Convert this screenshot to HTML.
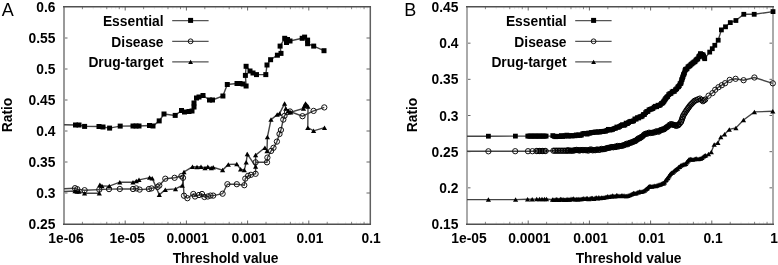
<!DOCTYPE html>
<html><head><meta charset="utf-8"><style>
html,body{margin:0;padding:0;background:#fff;}
body{width:778px;height:265px;overflow:hidden;}
svg{display:block;will-change:transform;}
text{font-family:"Liberation Sans", sans-serif;font-weight:bold;fill:#000;}
.yl{font-size:13.8px;text-anchor:end;}
.xl{font-size:13.8px;text-anchor:middle;}
.lg{font-size:13.8px;text-anchor:end;}
.al{font-size:13.8px;text-anchor:middle;}
.pl{font-size:18px;font-weight:normal;}
.ax{fill:none;stroke:#555;stroke-width:1.4;}
.tk{stroke:#666;stroke-width:1;}
.mt{stroke:#777;stroke-width:0.9;}
.mt2{stroke:#ddd;stroke-width:0.6;}
.ln{fill:none;stroke:#444;stroke-width:1.4;}
.lgl{stroke:#555;stroke-width:1.2;}
.sqm{fill:#000;}
.cim{fill:none;stroke:#111;stroke-width:1.0;}
.cid{fill:none;stroke:#000;stroke-width:1;}
.trm{fill:#000;}
</style></head><body>
<svg width="778" height="265" viewBox="0 0 778 265">
<line class="mt" x1="82.42" y1="224" x2="82.42" y2="221.8"/>
<line class="mt" x1="82.42" y1="7" x2="82.42" y2="9.2"/>
<line class="mt2" x1="93.20" y1="224" x2="93.20" y2="221.8"/>
<line class="mt2" x1="93.20" y1="7" x2="93.20" y2="9.2"/>
<line class="mt2" x1="100.85" y1="224" x2="100.85" y2="221.8"/>
<line class="mt2" x1="100.85" y1="7" x2="100.85" y2="9.2"/>
<line class="mt" x1="106.78" y1="224" x2="106.78" y2="221.8"/>
<line class="mt" x1="106.78" y1="7" x2="106.78" y2="9.2"/>
<line class="mt2" x1="111.62" y1="224" x2="111.62" y2="221.8"/>
<line class="mt2" x1="111.62" y1="7" x2="111.62" y2="9.2"/>
<line class="mt2" x1="115.72" y1="224" x2="115.72" y2="221.8"/>
<line class="mt2" x1="115.72" y1="7" x2="115.72" y2="9.2"/>
<line class="mt" x1="119.27" y1="224" x2="119.27" y2="221.8"/>
<line class="mt" x1="119.27" y1="7" x2="119.27" y2="9.2"/>
<line class="mt2" x1="122.40" y1="224" x2="122.40" y2="221.8"/>
<line class="mt2" x1="122.40" y1="7" x2="122.40" y2="9.2"/>
<line class="mt" x1="143.62" y1="224" x2="143.62" y2="221.8"/>
<line class="mt" x1="143.62" y1="7" x2="143.62" y2="9.2"/>
<line class="mt2" x1="154.40" y1="224" x2="154.40" y2="221.8"/>
<line class="mt2" x1="154.40" y1="7" x2="154.40" y2="9.2"/>
<line class="mt2" x1="162.05" y1="224" x2="162.05" y2="221.8"/>
<line class="mt2" x1="162.05" y1="7" x2="162.05" y2="9.2"/>
<line class="mt" x1="167.98" y1="224" x2="167.98" y2="221.8"/>
<line class="mt" x1="167.98" y1="7" x2="167.98" y2="9.2"/>
<line class="mt2" x1="172.82" y1="224" x2="172.82" y2="221.8"/>
<line class="mt2" x1="172.82" y1="7" x2="172.82" y2="9.2"/>
<line class="mt2" x1="176.92" y1="224" x2="176.92" y2="221.8"/>
<line class="mt2" x1="176.92" y1="7" x2="176.92" y2="9.2"/>
<line class="mt" x1="180.47" y1="224" x2="180.47" y2="221.8"/>
<line class="mt" x1="180.47" y1="7" x2="180.47" y2="9.2"/>
<line class="mt2" x1="183.60" y1="224" x2="183.60" y2="221.8"/>
<line class="mt2" x1="183.60" y1="7" x2="183.60" y2="9.2"/>
<line class="mt" x1="204.82" y1="224" x2="204.82" y2="221.8"/>
<line class="mt" x1="204.82" y1="7" x2="204.82" y2="9.2"/>
<line class="mt2" x1="215.60" y1="224" x2="215.60" y2="221.8"/>
<line class="mt2" x1="215.60" y1="7" x2="215.60" y2="9.2"/>
<line class="mt2" x1="223.25" y1="224" x2="223.25" y2="221.8"/>
<line class="mt2" x1="223.25" y1="7" x2="223.25" y2="9.2"/>
<line class="mt" x1="229.18" y1="224" x2="229.18" y2="221.8"/>
<line class="mt" x1="229.18" y1="7" x2="229.18" y2="9.2"/>
<line class="mt2" x1="234.02" y1="224" x2="234.02" y2="221.8"/>
<line class="mt2" x1="234.02" y1="7" x2="234.02" y2="9.2"/>
<line class="mt2" x1="238.12" y1="224" x2="238.12" y2="221.8"/>
<line class="mt2" x1="238.12" y1="7" x2="238.12" y2="9.2"/>
<line class="mt" x1="241.67" y1="224" x2="241.67" y2="221.8"/>
<line class="mt" x1="241.67" y1="7" x2="241.67" y2="9.2"/>
<line class="mt2" x1="244.80" y1="224" x2="244.80" y2="221.8"/>
<line class="mt2" x1="244.80" y1="7" x2="244.80" y2="9.2"/>
<line class="mt" x1="266.02" y1="224" x2="266.02" y2="221.8"/>
<line class="mt" x1="266.02" y1="7" x2="266.02" y2="9.2"/>
<line class="mt2" x1="276.80" y1="224" x2="276.80" y2="221.8"/>
<line class="mt2" x1="276.80" y1="7" x2="276.80" y2="9.2"/>
<line class="mt2" x1="284.45" y1="224" x2="284.45" y2="221.8"/>
<line class="mt2" x1="284.45" y1="7" x2="284.45" y2="9.2"/>
<line class="mt" x1="290.38" y1="224" x2="290.38" y2="221.8"/>
<line class="mt" x1="290.38" y1="7" x2="290.38" y2="9.2"/>
<line class="mt2" x1="295.22" y1="224" x2="295.22" y2="221.8"/>
<line class="mt2" x1="295.22" y1="7" x2="295.22" y2="9.2"/>
<line class="mt2" x1="299.32" y1="224" x2="299.32" y2="221.8"/>
<line class="mt2" x1="299.32" y1="7" x2="299.32" y2="9.2"/>
<line class="mt" x1="302.87" y1="224" x2="302.87" y2="221.8"/>
<line class="mt" x1="302.87" y1="7" x2="302.87" y2="9.2"/>
<line class="mt2" x1="306.00" y1="224" x2="306.00" y2="221.8"/>
<line class="mt2" x1="306.00" y1="7" x2="306.00" y2="9.2"/>
<line class="mt" x1="327.22" y1="224" x2="327.22" y2="221.8"/>
<line class="mt" x1="327.22" y1="7" x2="327.22" y2="9.2"/>
<line class="mt2" x1="338.00" y1="224" x2="338.00" y2="221.8"/>
<line class="mt2" x1="338.00" y1="7" x2="338.00" y2="9.2"/>
<line class="mt2" x1="345.65" y1="224" x2="345.65" y2="221.8"/>
<line class="mt2" x1="345.65" y1="7" x2="345.65" y2="9.2"/>
<line class="mt" x1="351.58" y1="224" x2="351.58" y2="221.8"/>
<line class="mt" x1="351.58" y1="7" x2="351.58" y2="9.2"/>
<line class="mt2" x1="356.42" y1="224" x2="356.42" y2="221.8"/>
<line class="mt2" x1="356.42" y1="7" x2="356.42" y2="9.2"/>
<line class="mt2" x1="360.52" y1="224" x2="360.52" y2="221.8"/>
<line class="mt2" x1="360.52" y1="7" x2="360.52" y2="9.2"/>
<line class="mt" x1="364.07" y1="224" x2="364.07" y2="221.8"/>
<line class="mt" x1="364.07" y1="7" x2="364.07" y2="9.2"/>
<line class="mt2" x1="367.20" y1="224" x2="367.20" y2="221.8"/>
<line class="mt2" x1="367.20" y1="7" x2="367.20" y2="9.2"/>
<line class="tk" x1="125.20" y1="224" x2="125.20" y2="220.5"/>
<line class="tk" x1="125.20" y1="7" x2="125.20" y2="10.5"/>
<line class="tk" x1="186.40" y1="224" x2="186.40" y2="220.5"/>
<line class="tk" x1="186.40" y1="7" x2="186.40" y2="10.5"/>
<line class="tk" x1="247.60" y1="224" x2="247.60" y2="220.5"/>
<line class="tk" x1="247.60" y1="7" x2="247.60" y2="10.5"/>
<line class="tk" x1="308.80" y1="224" x2="308.80" y2="220.5"/>
<line class="tk" x1="308.80" y1="7" x2="308.80" y2="10.5"/>
<text class="yl" x="55.4" y="12.00">0.6</text>
<line class="tk" x1="64" y1="38.00" x2="67.5" y2="38.00"/>
<line class="tk" x1="370" y1="38.00" x2="366.5" y2="38.00"/>
<text class="yl" x="55.4" y="43.00">0.55</text>
<line class="tk" x1="64" y1="69.00" x2="67.5" y2="69.00"/>
<line class="tk" x1="370" y1="69.00" x2="366.5" y2="69.00"/>
<text class="yl" x="55.4" y="74.00">0.5</text>
<line class="tk" x1="64" y1="100.00" x2="67.5" y2="100.00"/>
<line class="tk" x1="370" y1="100.00" x2="366.5" y2="100.00"/>
<text class="yl" x="55.4" y="105.00">0.45</text>
<line class="tk" x1="64" y1="131.00" x2="67.5" y2="131.00"/>
<line class="tk" x1="370" y1="131.00" x2="366.5" y2="131.00"/>
<text class="yl" x="55.4" y="136.00">0.4</text>
<line class="tk" x1="64" y1="162.00" x2="67.5" y2="162.00"/>
<line class="tk" x1="370" y1="162.00" x2="366.5" y2="162.00"/>
<text class="yl" x="55.4" y="167.00">0.35</text>
<line class="tk" x1="64" y1="193.00" x2="67.5" y2="193.00"/>
<line class="tk" x1="370" y1="193.00" x2="366.5" y2="193.00"/>
<text class="yl" x="55.4" y="198.00">0.3</text>
<text class="yl" x="55.4" y="229.00">0.25</text>
<text class="xl" x="66.0" y="242.8">1e-06</text>
<text class="xl" x="127.2" y="242.8">1e-05</text>
<text class="xl" x="187.6" y="242.8">0.0001</text>
<text class="xl" x="248.8" y="242.8">0.001</text>
<text class="xl" x="310.0" y="242.8">0.01</text>
<text class="xl" x="371.2" y="242.8">0.1</text>
<line x1="64" y1="6.2" x2="64" y2="224.8" stroke="#999" stroke-width="2"/>
<line x1="370.3" y1="6.2" x2="370.3" y2="224.8" stroke="#606060" stroke-width="1.5"/>
<line x1="63" y1="6.8" x2="371" y2="6.8" stroke="#505050" stroke-width="1.5"/>
<line x1="63" y1="224.3" x2="371" y2="224.3" stroke="#505050" stroke-width="1.5"/>
<line class="mt" x1="485.42" y1="224" x2="485.42" y2="221.8"/>
<line class="mt" x1="485.42" y1="7" x2="485.42" y2="9.2"/>
<line class="mt2" x1="496.20" y1="224" x2="496.20" y2="221.8"/>
<line class="mt2" x1="496.20" y1="7" x2="496.20" y2="9.2"/>
<line class="mt2" x1="503.85" y1="224" x2="503.85" y2="221.8"/>
<line class="mt2" x1="503.85" y1="7" x2="503.85" y2="9.2"/>
<line class="mt" x1="509.78" y1="224" x2="509.78" y2="221.8"/>
<line class="mt" x1="509.78" y1="7" x2="509.78" y2="9.2"/>
<line class="mt2" x1="514.62" y1="224" x2="514.62" y2="221.8"/>
<line class="mt2" x1="514.62" y1="7" x2="514.62" y2="9.2"/>
<line class="mt2" x1="518.72" y1="224" x2="518.72" y2="221.8"/>
<line class="mt2" x1="518.72" y1="7" x2="518.72" y2="9.2"/>
<line class="mt" x1="522.27" y1="224" x2="522.27" y2="221.8"/>
<line class="mt" x1="522.27" y1="7" x2="522.27" y2="9.2"/>
<line class="mt2" x1="525.40" y1="224" x2="525.40" y2="221.8"/>
<line class="mt2" x1="525.40" y1="7" x2="525.40" y2="9.2"/>
<line class="mt" x1="546.62" y1="224" x2="546.62" y2="221.8"/>
<line class="mt" x1="546.62" y1="7" x2="546.62" y2="9.2"/>
<line class="mt2" x1="557.40" y1="224" x2="557.40" y2="221.8"/>
<line class="mt2" x1="557.40" y1="7" x2="557.40" y2="9.2"/>
<line class="mt2" x1="565.05" y1="224" x2="565.05" y2="221.8"/>
<line class="mt2" x1="565.05" y1="7" x2="565.05" y2="9.2"/>
<line class="mt" x1="570.98" y1="224" x2="570.98" y2="221.8"/>
<line class="mt" x1="570.98" y1="7" x2="570.98" y2="9.2"/>
<line class="mt2" x1="575.82" y1="224" x2="575.82" y2="221.8"/>
<line class="mt2" x1="575.82" y1="7" x2="575.82" y2="9.2"/>
<line class="mt2" x1="579.92" y1="224" x2="579.92" y2="221.8"/>
<line class="mt2" x1="579.92" y1="7" x2="579.92" y2="9.2"/>
<line class="mt" x1="583.47" y1="224" x2="583.47" y2="221.8"/>
<line class="mt" x1="583.47" y1="7" x2="583.47" y2="9.2"/>
<line class="mt2" x1="586.60" y1="224" x2="586.60" y2="221.8"/>
<line class="mt2" x1="586.60" y1="7" x2="586.60" y2="9.2"/>
<line class="mt" x1="607.82" y1="224" x2="607.82" y2="221.8"/>
<line class="mt" x1="607.82" y1="7" x2="607.82" y2="9.2"/>
<line class="mt2" x1="618.60" y1="224" x2="618.60" y2="221.8"/>
<line class="mt2" x1="618.60" y1="7" x2="618.60" y2="9.2"/>
<line class="mt2" x1="626.25" y1="224" x2="626.25" y2="221.8"/>
<line class="mt2" x1="626.25" y1="7" x2="626.25" y2="9.2"/>
<line class="mt" x1="632.18" y1="224" x2="632.18" y2="221.8"/>
<line class="mt" x1="632.18" y1="7" x2="632.18" y2="9.2"/>
<line class="mt2" x1="637.02" y1="224" x2="637.02" y2="221.8"/>
<line class="mt2" x1="637.02" y1="7" x2="637.02" y2="9.2"/>
<line class="mt2" x1="641.12" y1="224" x2="641.12" y2="221.8"/>
<line class="mt2" x1="641.12" y1="7" x2="641.12" y2="9.2"/>
<line class="mt" x1="644.67" y1="224" x2="644.67" y2="221.8"/>
<line class="mt" x1="644.67" y1="7" x2="644.67" y2="9.2"/>
<line class="mt2" x1="647.80" y1="224" x2="647.80" y2="221.8"/>
<line class="mt2" x1="647.80" y1="7" x2="647.80" y2="9.2"/>
<line class="mt" x1="669.02" y1="224" x2="669.02" y2="221.8"/>
<line class="mt" x1="669.02" y1="7" x2="669.02" y2="9.2"/>
<line class="mt2" x1="679.80" y1="224" x2="679.80" y2="221.8"/>
<line class="mt2" x1="679.80" y1="7" x2="679.80" y2="9.2"/>
<line class="mt2" x1="687.45" y1="224" x2="687.45" y2="221.8"/>
<line class="mt2" x1="687.45" y1="7" x2="687.45" y2="9.2"/>
<line class="mt" x1="693.38" y1="224" x2="693.38" y2="221.8"/>
<line class="mt" x1="693.38" y1="7" x2="693.38" y2="9.2"/>
<line class="mt2" x1="698.22" y1="224" x2="698.22" y2="221.8"/>
<line class="mt2" x1="698.22" y1="7" x2="698.22" y2="9.2"/>
<line class="mt2" x1="702.32" y1="224" x2="702.32" y2="221.8"/>
<line class="mt2" x1="702.32" y1="7" x2="702.32" y2="9.2"/>
<line class="mt" x1="705.87" y1="224" x2="705.87" y2="221.8"/>
<line class="mt" x1="705.87" y1="7" x2="705.87" y2="9.2"/>
<line class="mt2" x1="709.00" y1="224" x2="709.00" y2="221.8"/>
<line class="mt2" x1="709.00" y1="7" x2="709.00" y2="9.2"/>
<line class="mt" x1="730.22" y1="224" x2="730.22" y2="221.8"/>
<line class="mt" x1="730.22" y1="7" x2="730.22" y2="9.2"/>
<line class="mt2" x1="741.00" y1="224" x2="741.00" y2="221.8"/>
<line class="mt2" x1="741.00" y1="7" x2="741.00" y2="9.2"/>
<line class="mt2" x1="748.65" y1="224" x2="748.65" y2="221.8"/>
<line class="mt2" x1="748.65" y1="7" x2="748.65" y2="9.2"/>
<line class="mt" x1="754.58" y1="224" x2="754.58" y2="221.8"/>
<line class="mt" x1="754.58" y1="7" x2="754.58" y2="9.2"/>
<line class="mt2" x1="759.42" y1="224" x2="759.42" y2="221.8"/>
<line class="mt2" x1="759.42" y1="7" x2="759.42" y2="9.2"/>
<line class="mt2" x1="763.52" y1="224" x2="763.52" y2="221.8"/>
<line class="mt2" x1="763.52" y1="7" x2="763.52" y2="9.2"/>
<line class="mt" x1="767.07" y1="224" x2="767.07" y2="221.8"/>
<line class="mt" x1="767.07" y1="7" x2="767.07" y2="9.2"/>
<line class="mt2" x1="770.20" y1="224" x2="770.20" y2="221.8"/>
<line class="mt2" x1="770.20" y1="7" x2="770.20" y2="9.2"/>
<line class="tk" x1="528.20" y1="224" x2="528.20" y2="220.5"/>
<line class="tk" x1="528.20" y1="7" x2="528.20" y2="10.5"/>
<line class="tk" x1="589.40" y1="224" x2="589.40" y2="220.5"/>
<line class="tk" x1="589.40" y1="7" x2="589.40" y2="10.5"/>
<line class="tk" x1="650.60" y1="224" x2="650.60" y2="220.5"/>
<line class="tk" x1="650.60" y1="7" x2="650.60" y2="10.5"/>
<line class="tk" x1="711.80" y1="224" x2="711.80" y2="220.5"/>
<line class="tk" x1="711.80" y1="7" x2="711.80" y2="10.5"/>
<text class="yl" x="458.4" y="12.00">0.45</text>
<line class="tk" x1="467" y1="43.17" x2="470.5" y2="43.17"/>
<line class="tk" x1="773" y1="43.17" x2="769.5" y2="43.17"/>
<text class="yl" x="458.4" y="48.17">0.4</text>
<line class="tk" x1="467" y1="79.33" x2="470.5" y2="79.33"/>
<line class="tk" x1="773" y1="79.33" x2="769.5" y2="79.33"/>
<text class="yl" x="458.4" y="84.33">0.35</text>
<line class="tk" x1="467" y1="115.50" x2="470.5" y2="115.50"/>
<line class="tk" x1="773" y1="115.50" x2="769.5" y2="115.50"/>
<text class="yl" x="458.4" y="120.50">0.3</text>
<line class="tk" x1="467" y1="151.67" x2="470.5" y2="151.67"/>
<line class="tk" x1="773" y1="151.67" x2="769.5" y2="151.67"/>
<text class="yl" x="458.4" y="156.67">0.25</text>
<line class="tk" x1="467" y1="187.83" x2="470.5" y2="187.83"/>
<line class="tk" x1="773" y1="187.83" x2="769.5" y2="187.83"/>
<text class="yl" x="458.4" y="192.83">0.2</text>
<text class="yl" x="458.4" y="229.00">0.15</text>
<text class="xl" x="469.0" y="242.8">1e-05</text>
<text class="xl" x="529.4" y="242.8">0.0001</text>
<text class="xl" x="590.6" y="242.8">0.001</text>
<text class="xl" x="651.8" y="242.8">0.01</text>
<text class="xl" x="713.0" y="242.8">0.1</text>
<text class="xl" x="774.2" y="242.8">1</text>
<line x1="467" y1="6.2" x2="467" y2="224.8" stroke="#aaa" stroke-width="2"/>
<line x1="773" y1="6.2" x2="773" y2="224.8" stroke="#aaa" stroke-width="2"/>
<line x1="466" y1="6.8" x2="774" y2="6.8" stroke="#505050" stroke-width="1.5"/>
<line x1="466" y1="224.3" x2="774" y2="224.3" stroke="#505050" stroke-width="1.5"/>
<text class="lg" x="163.5" y="25.8">Essential</text>
<line class="lgl" x1="172.2" y1="20.7" x2="208.6" y2="20.7"/>
<g class="sqm"><rect x="188.10" y="17.90" width="5.0" height="5.0"/></g>
<text class="lg" x="163.5" y="46.6">Disease</text>
<line class="lgl" x1="172.2" y1="41.3" x2="208.6" y2="41.3"/>
<g class="cim"><circle cx="190.60" cy="41.30" r="2.4"/></g>
<text class="lg" x="163.5" y="66.5">Drug-target</text>
<line class="lgl" x1="172.2" y1="61.9" x2="208.6" y2="61.9"/>
<g class="trm"><path d="M188.20 63.98L193.00 63.98L190.60 59.82Z"/></g>
<text class="lg" x="566.5" y="25.8">Essential</text>
<line class="lgl" x1="575.2" y1="20.7" x2="611.6" y2="20.7"/>
<g class="sqm"><rect x="591.10" y="17.90" width="5.0" height="5.0"/></g>
<text class="lg" x="566.5" y="46.6">Disease</text>
<line class="lgl" x1="575.2" y1="41.3" x2="611.6" y2="41.3"/>
<g class="cim"><circle cx="593.60" cy="41.30" r="2.4"/></g>
<text class="lg" x="566.5" y="66.5">Drug-target</text>
<line class="lgl" x1="575.2" y1="61.9" x2="611.6" y2="61.9"/>
<g class="trm"><path d="M591.20 63.98L596.00 63.98L593.60 59.82Z"/></g>
<polyline class="ln" points="64.00,124.70 75.50,125.00 79.00,125.00 84.60,126.40 99.00,126.50 103.00,127.00 109.60,128.10 120.20,126.10 133.00,126.00 136.00,126.00 139.00,126.00 149.50,125.50 153.00,126.00 159.20,120.90 164.00,114.00 175.20,115.40 181.50,110.50 184.50,112.00 189.00,111.50 192.00,111.00 194.00,107.00 194.00,103.00 196.50,98.00 199.00,97.00 203.00,95.50 209.50,100.00 212.50,100.00 222.90,96.00 227.30,84.50 237.00,83.50 240.00,83.50 243.00,84.00 246.10,86.00 245.40,75.40 246.10,66.30 250.00,71.00 253.00,73.00 256.50,74.60 265.80,74.60 267.00,65.00 270.60,59.70 277.40,55.20 281.00,53.40 280.10,46.10 284.70,38.30 286.50,42.50 287.50,39.50 290.00,41.00 302.20,38.30 304.60,37.10 307.60,40.10 307.60,43.70 313.70,46.10 324.00,50.70"/>
<g class="sqm"><rect x="73.00" y="122.50" width="5.0" height="5.0"/><rect x="76.50" y="122.50" width="5.0" height="5.0"/><rect x="82.10" y="123.90" width="5.0" height="5.0"/><rect x="96.50" y="124.00" width="5.0" height="5.0"/><rect x="100.50" y="124.50" width="5.0" height="5.0"/><rect x="107.10" y="125.60" width="5.0" height="5.0"/><rect x="117.70" y="123.60" width="5.0" height="5.0"/><rect x="130.50" y="123.50" width="5.0" height="5.0"/><rect x="133.50" y="123.50" width="5.0" height="5.0"/><rect x="136.50" y="123.50" width="5.0" height="5.0"/><rect x="147.00" y="123.00" width="5.0" height="5.0"/><rect x="150.50" y="123.50" width="5.0" height="5.0"/><rect x="156.70" y="118.40" width="5.0" height="5.0"/><rect x="161.50" y="111.50" width="5.0" height="5.0"/><rect x="172.70" y="112.90" width="5.0" height="5.0"/><rect x="179.00" y="108.00" width="5.0" height="5.0"/><rect x="182.00" y="109.50" width="5.0" height="5.0"/><rect x="186.50" y="109.00" width="5.0" height="5.0"/><rect x="189.50" y="108.50" width="5.0" height="5.0"/><rect x="191.50" y="104.50" width="5.0" height="5.0"/><rect x="191.50" y="100.50" width="5.0" height="5.0"/><rect x="194.00" y="95.50" width="5.0" height="5.0"/><rect x="196.50" y="94.50" width="5.0" height="5.0"/><rect x="200.50" y="93.00" width="5.0" height="5.0"/><rect x="207.00" y="97.50" width="5.0" height="5.0"/><rect x="210.00" y="97.50" width="5.0" height="5.0"/><rect x="220.40" y="93.50" width="5.0" height="5.0"/><rect x="224.80" y="82.00" width="5.0" height="5.0"/><rect x="234.50" y="81.00" width="5.0" height="5.0"/><rect x="237.50" y="81.00" width="5.0" height="5.0"/><rect x="240.50" y="81.50" width="5.0" height="5.0"/><rect x="243.60" y="83.50" width="5.0" height="5.0"/><rect x="242.90" y="72.90" width="5.0" height="5.0"/><rect x="243.60" y="63.80" width="5.0" height="5.0"/><rect x="247.50" y="68.50" width="5.0" height="5.0"/><rect x="250.50" y="70.50" width="5.0" height="5.0"/><rect x="254.00" y="72.10" width="5.0" height="5.0"/><rect x="263.30" y="72.10" width="5.0" height="5.0"/><rect x="264.50" y="62.50" width="5.0" height="5.0"/><rect x="268.10" y="57.20" width="5.0" height="5.0"/><rect x="274.90" y="52.70" width="5.0" height="5.0"/><rect x="278.50" y="50.90" width="5.0" height="5.0"/><rect x="277.60" y="43.60" width="5.0" height="5.0"/><rect x="282.20" y="35.80" width="5.0" height="5.0"/><rect x="284.00" y="40.00" width="5.0" height="5.0"/><rect x="285.00" y="37.00" width="5.0" height="5.0"/><rect x="287.50" y="38.50" width="5.0" height="5.0"/><rect x="299.70" y="35.80" width="5.0" height="5.0"/><rect x="302.10" y="34.60" width="5.0" height="5.0"/><rect x="305.10" y="37.60" width="5.0" height="5.0"/><rect x="305.10" y="41.20" width="5.0" height="5.0"/><rect x="311.20" y="43.60" width="5.0" height="5.0"/><rect x="321.50" y="48.20" width="5.0" height="5.0"/></g>
<polyline class="ln" points="64.00,188.80 75.00,188.20 77.30,189.20 84.60,190.20 99.30,189.60 109.00,189.10 119.80,189.00 133.00,189.00 136.30,188.40 139.60,189.60 148.90,189.00 151.50,188.40 157.50,187.00 159.30,185.50 165.30,178.70 174.60,177.80 181.40,176.10 183.00,177.80 184.00,195.70 187.40,198.20 193.30,194.00 195.00,196.50 199.00,195.00 202.00,194.00 204.40,197.00 207.80,196.50 210.50,195.60 213.20,195.60 222.60,193.70 227.40,184.20 236.80,184.20 244.30,185.20 245.30,178.60 248.10,175.80 250.90,174.80 255.60,173.80 255.60,162.30 267.00,162.30 267.40,157.60 271.10,150.90 273.50,147.80 276.90,141.60 279.50,134.00 280.90,130.00 283.30,119.60 284.50,115.90 287.00,112.20 290.00,111.50 302.50,116.20 313.60,110.90 324.30,107.40"/>
<polyline class="ln" points="64.00,191.50 75.00,191.00 77.00,191.50 79.00,191.50 84.60,193.20 99.30,193.20 99.90,184.70 102.00,186.00 109.30,186.10 119.80,182.20 133.00,182.20 136.30,180.90 139.00,179.80 149.60,177.60 152.20,178.20 159.30,194.80 165.30,189.70 175.50,188.90 182.30,185.50 184.00,171.90 192.50,166.80 197.00,167.00 201.00,166.80 205.00,168.00 207.80,166.80 211.30,168.00 213.20,167.30 222.60,170.10 228.30,164.40 236.80,164.10 240.60,169.20 244.30,170.10 246.20,162.30 247.30,154.00 255.60,166.50 255.60,155.10 264.90,147.80 267.00,150.90 267.40,137.00 271.00,119.60 277.20,114.60 279.60,113.40 284.60,103.60 285.80,108.50 288.20,111.00 290.70,112.20 303.50,108.50 304.20,106.00 305.50,103.50 306.60,104.80 308.00,106.50 307.80,127.70 313.60,130.80 324.50,127.70"/>
<g class="cim"><circle cx="75.00" cy="188.20" r="2.65"/><circle cx="77.30" cy="189.20" r="2.65"/><circle cx="84.60" cy="190.20" r="2.65"/><circle cx="99.30" cy="189.60" r="2.65"/><circle cx="109.00" cy="189.10" r="2.65"/><circle cx="119.80" cy="189.00" r="2.65"/><circle cx="133.00" cy="189.00" r="2.65"/><circle cx="136.30" cy="188.40" r="2.65"/><circle cx="139.60" cy="189.60" r="2.65"/><circle cx="148.90" cy="189.00" r="2.65"/><circle cx="151.50" cy="188.40" r="2.65"/><circle cx="157.50" cy="187.00" r="2.65"/><circle cx="159.30" cy="185.50" r="2.65"/><circle cx="165.30" cy="178.70" r="2.65"/><circle cx="174.60" cy="177.80" r="2.65"/><circle cx="181.40" cy="176.10" r="2.65"/><circle cx="183.00" cy="177.80" r="2.65"/><circle cx="184.00" cy="195.70" r="2.65"/><circle cx="187.40" cy="198.20" r="2.65"/><circle cx="193.30" cy="194.00" r="2.65"/><circle cx="195.00" cy="196.50" r="2.65"/><circle cx="199.00" cy="195.00" r="2.65"/><circle cx="202.00" cy="194.00" r="2.65"/><circle cx="204.40" cy="197.00" r="2.65"/><circle cx="207.80" cy="196.50" r="2.65"/><circle cx="210.50" cy="195.60" r="2.65"/><circle cx="213.20" cy="195.60" r="2.65"/><circle cx="222.60" cy="193.70" r="2.65"/><circle cx="227.40" cy="184.20" r="2.65"/><circle cx="236.80" cy="184.20" r="2.65"/><circle cx="244.30" cy="185.20" r="2.65"/><circle cx="245.30" cy="178.60" r="2.65"/><circle cx="248.10" cy="175.80" r="2.65"/><circle cx="250.90" cy="174.80" r="2.65"/><circle cx="255.60" cy="173.80" r="2.65"/><circle cx="255.60" cy="162.30" r="2.65"/><circle cx="267.00" cy="162.30" r="2.65"/><circle cx="267.40" cy="157.60" r="2.65"/><circle cx="271.10" cy="150.90" r="2.65"/><circle cx="273.50" cy="147.80" r="2.65"/><circle cx="276.90" cy="141.60" r="2.65"/><circle cx="279.50" cy="134.00" r="2.65"/><circle cx="280.90" cy="130.00" r="2.65"/><circle cx="283.30" cy="119.60" r="2.65"/><circle cx="284.50" cy="115.90" r="2.65"/><circle cx="287.00" cy="112.20" r="2.65"/><circle cx="290.00" cy="111.50" r="2.65"/><circle cx="302.50" cy="116.20" r="2.65"/><circle cx="313.60" cy="110.90" r="2.65"/><circle cx="324.30" cy="107.40" r="2.65"/></g>
<g class="trm"><path d="M72.40 193.25L77.60 193.25L75.00 188.75Z"/><path d="M74.40 193.75L79.60 193.75L77.00 189.25Z"/><path d="M76.40 193.75L81.60 193.75L79.00 189.25Z"/><path d="M82.00 195.45L87.20 195.45L84.60 190.95Z"/><path d="M96.70 195.45L101.90 195.45L99.30 190.95Z"/><path d="M97.30 186.95L102.50 186.95L99.90 182.45Z"/><path d="M99.40 188.25L104.60 188.25L102.00 183.75Z"/><path d="M106.70 188.35L111.90 188.35L109.30 183.85Z"/><path d="M117.20 184.45L122.40 184.45L119.80 179.95Z"/><path d="M130.40 184.45L135.60 184.45L133.00 179.95Z"/><path d="M133.70 183.15L138.90 183.15L136.30 178.65Z"/><path d="M136.40 182.05L141.60 182.05L139.00 177.55Z"/><path d="M147.00 179.85L152.20 179.85L149.60 175.35Z"/><path d="M149.60 180.45L154.80 180.45L152.20 175.95Z"/><path d="M156.70 197.05L161.90 197.05L159.30 192.55Z"/><path d="M162.70 191.95L167.90 191.95L165.30 187.45Z"/><path d="M172.90 191.15L178.10 191.15L175.50 186.65Z"/><path d="M179.70 187.75L184.90 187.75L182.30 183.25Z"/><path d="M181.40 174.15L186.60 174.15L184.00 169.65Z"/><path d="M189.90 169.05L195.10 169.05L192.50 164.55Z"/><path d="M194.40 169.25L199.60 169.25L197.00 164.75Z"/><path d="M198.40 169.05L203.60 169.05L201.00 164.55Z"/><path d="M202.40 170.25L207.60 170.25L205.00 165.75Z"/><path d="M205.20 169.05L210.40 169.05L207.80 164.55Z"/><path d="M208.70 170.25L213.90 170.25L211.30 165.75Z"/><path d="M210.60 169.55L215.80 169.55L213.20 165.05Z"/><path d="M220.00 172.35L225.20 172.35L222.60 167.85Z"/><path d="M225.70 166.65L230.90 166.65L228.30 162.15Z"/><path d="M234.20 166.35L239.40 166.35L236.80 161.85Z"/><path d="M238.00 171.45L243.20 171.45L240.60 166.95Z"/><path d="M241.70 172.35L246.90 172.35L244.30 167.85Z"/><path d="M243.60 164.55L248.80 164.55L246.20 160.05Z"/><path d="M244.70 156.25L249.90 156.25L247.30 151.75Z"/><path d="M253.00 168.75L258.20 168.75L255.60 164.25Z"/><path d="M253.00 157.35L258.20 157.35L255.60 152.85Z"/><path d="M262.30 150.05L267.50 150.05L264.90 145.55Z"/><path d="M264.40 153.15L269.60 153.15L267.00 148.65Z"/><path d="M264.80 139.25L270.00 139.25L267.40 134.75Z"/><path d="M268.40 121.85L273.60 121.85L271.00 117.35Z"/><path d="M274.60 116.85L279.80 116.85L277.20 112.35Z"/><path d="M277.00 115.65L282.20 115.65L279.60 111.15Z"/><path d="M282.00 105.85L287.20 105.85L284.60 101.35Z"/><path d="M283.20 110.75L288.40 110.75L285.80 106.25Z"/><path d="M285.60 113.25L290.80 113.25L288.20 108.75Z"/><path d="M288.10 114.45L293.30 114.45L290.70 109.95Z"/><path d="M300.90 110.75L306.10 110.75L303.50 106.25Z"/><path d="M301.60 108.25L306.80 108.25L304.20 103.75Z"/><path d="M302.90 105.75L308.10 105.75L305.50 101.25Z"/><path d="M304.00 107.05L309.20 107.05L306.60 102.55Z"/><path d="M305.40 108.75L310.60 108.75L308.00 104.25Z"/><path d="M305.20 129.95L310.40 129.95L307.80 125.45Z"/><path d="M311.00 133.05L316.20 133.05L313.60 128.55Z"/><path d="M321.90 129.95L327.10 129.95L324.50 125.45Z"/></g>
<polyline class="ln" points="467.00,136.20 488.40,136.20 515.40,136.10 527.80,136.10 546.10,136.10 552.80,136.10 560.00,136.30 575.00,135.20 580.00,134.80 588.50,133.20 597.00,132.00 605.50,130.50 614.00,128.50 622.50,125.30 631.00,121.60 640.00,117.00 649.00,110.50 658.00,105.50 662.70,103.00 665.70,98.40 668.70,94.60 673.20,91.60 677.80,87.80 680.80,83.30 683.40,75.00 686.00,69.00 690.00,65.50 695.00,61.50 698.70,57.50 700.50,54.00 700.50,54.00 703.00,54.80 704.70,58.70 709.70,52.10 712.30,48.70 714.80,45.30 718.20,40.20 721.40,29.90 725.50,26.80 730.30,22.60 735.90,20.50 743.80,14.30 754.20,14.30 773.00,11.60"/>
<g class="sqm"><rect x="525.40" y="133.70" width="4.8" height="4.8"/><rect x="526.71" y="133.70" width="4.8" height="4.8"/><rect x="528.01" y="133.70" width="4.8" height="4.8"/><rect x="529.32" y="133.70" width="4.8" height="4.8"/><rect x="530.63" y="133.70" width="4.8" height="4.8"/><rect x="531.94" y="133.70" width="4.8" height="4.8"/><rect x="533.24" y="133.70" width="4.8" height="4.8"/><rect x="534.55" y="133.70" width="4.8" height="4.8"/><rect x="535.86" y="133.70" width="4.8" height="4.8"/><rect x="537.16" y="133.70" width="4.8" height="4.8"/><rect x="538.47" y="133.70" width="4.8" height="4.8"/><rect x="539.78" y="133.70" width="4.8" height="4.8"/><rect x="541.09" y="133.70" width="4.8" height="4.8"/><rect x="542.39" y="133.70" width="4.8" height="4.8"/><rect x="543.70" y="133.70" width="4.8" height="4.8"/><rect x="550.40" y="133.21" width="4.8" height="4.8"/><rect x="551.84" y="133.93" width="4.8" height="4.8"/><rect x="553.28" y="134.30" width="4.8" height="4.8"/><rect x="554.72" y="133.85" width="4.8" height="4.8"/><rect x="556.16" y="134.20" width="4.8" height="4.8"/><rect x="557.60" y="134.14" width="4.8" height="4.8"/><rect x="558.96" y="133.19" width="4.8" height="4.8"/><rect x="560.33" y="134.06" width="4.8" height="4.8"/><rect x="561.69" y="133.73" width="4.8" height="4.8"/><rect x="563.05" y="133.22" width="4.8" height="4.8"/><rect x="564.42" y="132.74" width="4.8" height="4.8"/><rect x="565.78" y="133.81" width="4.8" height="4.8"/><rect x="567.15" y="133.16" width="4.8" height="4.8"/><rect x="568.51" y="133.41" width="4.8" height="4.8"/><rect x="569.87" y="133.53" width="4.8" height="4.8"/><rect x="571.24" y="133.20" width="4.8" height="4.8"/><rect x="572.60" y="133.39" width="4.8" height="4.8"/><rect x="573.85" y="132.55" width="4.8" height="4.8"/><rect x="575.10" y="133.02" width="4.8" height="4.8"/><rect x="576.35" y="132.42" width="4.8" height="4.8"/><rect x="577.60" y="133.01" width="4.8" height="4.8"/><rect x="579.02" y="132.66" width="4.8" height="4.8"/><rect x="580.43" y="131.30" width="4.8" height="4.8"/><rect x="581.85" y="131.09" width="4.8" height="4.8"/><rect x="583.27" y="130.94" width="4.8" height="4.8"/><rect x="584.68" y="131.72" width="4.8" height="4.8"/><rect x="586.10" y="130.71" width="4.8" height="4.8"/><rect x="587.52" y="130.78" width="4.8" height="4.8"/><rect x="588.93" y="130.12" width="4.8" height="4.8"/><rect x="590.35" y="130.21" width="4.8" height="4.8"/><rect x="591.77" y="129.84" width="4.8" height="4.8"/><rect x="593.18" y="129.59" width="4.8" height="4.8"/><rect x="594.60" y="129.72" width="4.8" height="4.8"/><rect x="596.02" y="129.47" width="4.8" height="4.8"/><rect x="597.43" y="129.67" width="4.8" height="4.8"/><rect x="598.85" y="129.10" width="4.8" height="4.8"/><rect x="600.27" y="129.20" width="4.8" height="4.8"/><rect x="601.68" y="128.85" width="4.8" height="4.8"/><rect x="603.10" y="128.79" width="4.8" height="4.8"/><rect x="604.52" y="128.01" width="4.8" height="4.8"/><rect x="605.93" y="126.96" width="4.8" height="4.8"/><rect x="607.35" y="127.60" width="4.8" height="4.8"/><rect x="608.77" y="127.42" width="4.8" height="4.8"/><rect x="610.18" y="127.00" width="4.8" height="4.8"/><rect x="611.60" y="126.20" width="4.8" height="4.8"/><rect x="613.02" y="125.87" width="4.8" height="4.8"/><rect x="614.43" y="124.63" width="4.8" height="4.8"/><rect x="615.85" y="124.96" width="4.8" height="4.8"/><rect x="617.27" y="124.07" width="4.8" height="4.8"/><rect x="618.68" y="123.13" width="4.8" height="4.8"/><rect x="620.10" y="122.29" width="4.8" height="4.8"/><rect x="621.31" y="122.87" width="4.8" height="4.8"/><rect x="622.53" y="122.53" width="4.8" height="4.8"/><rect x="623.74" y="120.74" width="4.8" height="4.8"/><rect x="624.96" y="121.21" width="4.8" height="4.8"/><rect x="626.17" y="120.13" width="4.8" height="4.8"/><rect x="627.39" y="119.24" width="4.8" height="4.8"/><rect x="628.60" y="118.91" width="4.8" height="4.8"/><rect x="629.89" y="118.92" width="4.8" height="4.8"/><rect x="631.17" y="118.41" width="4.8" height="4.8"/><rect x="632.46" y="116.59" width="4.8" height="4.8"/><rect x="633.74" y="116.73" width="4.8" height="4.8"/><rect x="635.03" y="115.28" width="4.8" height="4.8"/><rect x="636.31" y="115.56" width="4.8" height="4.8"/><rect x="637.60" y="114.36" width="4.8" height="4.8"/><rect x="638.73" y="114.32" width="4.8" height="4.8"/><rect x="639.85" y="113.65" width="4.8" height="4.8"/><rect x="640.98" y="112.17" width="4.8" height="4.8"/><rect x="642.10" y="112.05" width="4.8" height="4.8"/><rect x="643.23" y="110.27" width="4.8" height="4.8"/><rect x="644.35" y="109.13" width="4.8" height="4.8"/><rect x="645.48" y="109.05" width="4.8" height="4.8"/><rect x="646.60" y="107.44" width="4.8" height="4.8"/><rect x="647.89" y="106.96" width="4.8" height="4.8"/><rect x="649.17" y="106.54" width="4.8" height="4.8"/><rect x="650.46" y="106.11" width="4.8" height="4.8"/><rect x="651.74" y="104.76" width="4.8" height="4.8"/><rect x="653.03" y="103.89" width="4.8" height="4.8"/><rect x="654.31" y="104.33" width="4.8" height="4.8"/><rect x="655.60" y="102.84" width="4.8" height="4.8"/><rect x="656.77" y="103.12" width="4.8" height="4.8"/><rect x="657.95" y="102.41" width="4.8" height="4.8"/><rect x="659.13" y="101.05" width="4.8" height="4.8"/><rect x="660.30" y="100.54" width="4.8" height="4.8"/><rect x="661.05" y="99.48" width="4.8" height="4.8"/><rect x="661.80" y="98.50" width="4.8" height="4.8"/><rect x="662.55" y="97.28" width="4.8" height="4.8"/><rect x="663.30" y="96.08" width="4.8" height="4.8"/><rect x="664.30" y="94.90" width="4.8" height="4.8"/><rect x="665.30" y="94.08" width="4.8" height="4.8"/><rect x="666.30" y="92.21" width="4.8" height="4.8"/><rect x="667.43" y="91.35" width="4.8" height="4.8"/><rect x="668.55" y="91.01" width="4.8" height="4.8"/><rect x="669.68" y="89.58" width="4.8" height="4.8"/><rect x="670.80" y="88.92" width="4.8" height="4.8"/><rect x="671.95" y="88.92" width="4.8" height="4.8"/><rect x="673.10" y="87.33" width="4.8" height="4.8"/><rect x="674.25" y="86.42" width="4.8" height="4.8"/><rect x="675.40" y="84.72" width="4.8" height="4.8"/><rect x="676.15" y="84.16" width="4.8" height="4.8"/><rect x="676.90" y="83.26" width="4.8" height="4.8"/><rect x="677.65" y="81.35" width="4.8" height="4.8"/><rect x="678.40" y="81.06" width="4.8" height="4.8"/><rect x="678.83" y="79.70" width="4.8" height="4.8"/><rect x="679.27" y="77.52" width="4.8" height="4.8"/><rect x="679.70" y="76.93" width="4.8" height="4.8"/><rect x="680.13" y="75.32" width="4.8" height="4.8"/><rect x="680.57" y="74.23" width="4.8" height="4.8"/><rect x="681.00" y="72.39" width="4.8" height="4.8"/><rect x="681.52" y="71.69" width="4.8" height="4.8"/><rect x="682.04" y="70.53" width="4.8" height="4.8"/><rect x="682.56" y="68.33" width="4.8" height="4.8"/><rect x="683.08" y="67.18" width="4.8" height="4.8"/><rect x="683.60" y="66.85" width="4.8" height="4.8"/><rect x="684.60" y="66.37" width="4.8" height="4.8"/><rect x="685.60" y="64.50" width="4.8" height="4.8"/><rect x="686.60" y="63.91" width="4.8" height="4.8"/><rect x="687.60" y="63.23" width="4.8" height="4.8"/><rect x="688.60" y="62.05" width="4.8" height="4.8"/><rect x="689.60" y="61.31" width="4.8" height="4.8"/><rect x="690.60" y="60.44" width="4.8" height="4.8"/><rect x="691.60" y="59.72" width="4.8" height="4.8"/><rect x="692.60" y="59.23" width="4.8" height="4.8"/><rect x="693.52" y="57.82" width="4.8" height="4.8"/><rect x="694.45" y="56.93" width="4.8" height="4.8"/><rect x="695.38" y="56.48" width="4.8" height="4.8"/><rect x="696.30" y="54.44" width="4.8" height="4.8"/><rect x="696.90" y="54.03" width="4.8" height="4.8"/><rect x="697.50" y="53.10" width="4.8" height="4.8"/><rect x="698.10" y="51.33" width="4.8" height="4.8"/><rect x="698.10" y="51.60" width="4.8" height="4.8"/><rect x="699.35" y="52.00" width="4.8" height="4.8"/><rect x="700.60" y="52.40" width="4.8" height="4.8"/><rect x="701.17" y="53.70" width="4.8" height="4.8"/><rect x="701.73" y="55.00" width="4.8" height="4.8"/><rect x="702.30" y="56.30" width="4.8" height="4.8"/></g>
<g class="sqm"><rect x="486.00" y="133.80" width="4.8" height="4.8"/><rect x="513.00" y="133.70" width="4.8" height="4.8"/><rect x="707.30" y="49.70" width="4.8" height="4.8"/><rect x="709.90" y="46.30" width="4.8" height="4.8"/><rect x="712.40" y="42.90" width="4.8" height="4.8"/><rect x="715.80" y="37.80" width="4.8" height="4.8"/><rect x="719.00" y="27.50" width="4.8" height="4.8"/><rect x="723.10" y="24.40" width="4.8" height="4.8"/><rect x="727.90" y="20.20" width="4.8" height="4.8"/><rect x="733.50" y="18.10" width="4.8" height="4.8"/><rect x="741.40" y="11.90" width="4.8" height="4.8"/><rect x="751.80" y="11.90" width="4.8" height="4.8"/><rect x="770.60" y="9.20" width="4.8" height="4.8"/></g>
<polyline class="ln" points="467.00,151.30 488.40,151.30 515.20,151.20 528.00,151.20 532.40,151.20 536.40,151.00 545.60,151.00 553.40,150.70 567.60,150.70 567.60,150.70 575.00,150.30 588.20,150.20 601.40,149.20 614.60,147.00 627.80,144.00 634.40,141.20 641.00,137.20 646.00,133.60 652.00,132.40 658.00,131.50 664.20,129.20 668.00,126.20 671.00,124.60 674.70,125.50 678.50,125.00 678.50,125.00 681.00,122.00 683.30,115.50 686.30,110.70 690.10,105.40 694.60,100.80 699.90,98.60 702.90,101.20 705.20,99.50 708.60,95.70 712.50,93.10 715.20,89.80 718.50,87.20 721.80,85.20 725.10,83.20 729.70,79.90 735.60,78.80 743.60,80.20 754.40,77.50 772.80,83.30"/>
<polyline fill="none" stroke="#000" stroke-linejoin="round" stroke-width="4.2" points="567.60,150.70 575.00,150.30 588.20,150.20 601.40,149.20 614.60,147.00 627.80,144.00 634.40,141.20 641.00,137.20 646.00,133.60 652.00,132.40 658.00,131.50 664.20,129.20 668.00,126.20 671.00,124.60 674.70,125.50 678.50,125.00"/>
<g class="cid"><circle cx="536.40" cy="151.00" r="2.65"/><circle cx="537.93" cy="151.00" r="2.65"/><circle cx="539.47" cy="151.00" r="2.65"/><circle cx="541.00" cy="151.00" r="2.65"/><circle cx="542.53" cy="151.00" r="2.65"/><circle cx="544.07" cy="151.00" r="2.65"/><circle cx="545.60" cy="151.00" r="2.65"/><circle cx="553.40" cy="150.70" r="2.65"/><circle cx="554.98" cy="150.70" r="2.65"/><circle cx="556.56" cy="150.70" r="2.65"/><circle cx="558.13" cy="150.70" r="2.65"/><circle cx="559.71" cy="150.70" r="2.65"/><circle cx="561.29" cy="150.70" r="2.65"/><circle cx="562.87" cy="150.70" r="2.65"/><circle cx="564.44" cy="150.70" r="2.65"/><circle cx="566.02" cy="150.70" r="2.65"/><circle cx="567.60" cy="150.70" r="2.65"/><circle cx="567.60" cy="150.38" r="2.65"/><circle cx="569.08" cy="150.40" r="2.65"/><circle cx="570.56" cy="150.85" r="2.65"/><circle cx="572.04" cy="150.60" r="2.65"/><circle cx="573.52" cy="150.69" r="2.65"/><circle cx="575.00" cy="150.15" r="2.65"/><circle cx="576.47" cy="149.92" r="2.65"/><circle cx="577.93" cy="150.07" r="2.65"/><circle cx="579.40" cy="150.56" r="2.65"/><circle cx="580.87" cy="150.03" r="2.65"/><circle cx="582.33" cy="150.09" r="2.65"/><circle cx="583.80" cy="150.15" r="2.65"/><circle cx="585.27" cy="150.14" r="2.65"/><circle cx="586.73" cy="150.12" r="2.65"/><circle cx="588.20" cy="150.62" r="2.65"/><circle cx="589.67" cy="149.74" r="2.65"/><circle cx="591.13" cy="149.48" r="2.65"/><circle cx="592.60" cy="150.31" r="2.65"/><circle cx="594.07" cy="150.14" r="2.65"/><circle cx="595.53" cy="150.13" r="2.65"/><circle cx="597.00" cy="149.47" r="2.65"/><circle cx="598.47" cy="149.87" r="2.65"/><circle cx="599.93" cy="149.74" r="2.65"/><circle cx="601.40" cy="148.92" r="2.65"/><circle cx="602.72" cy="149.23" r="2.65"/><circle cx="604.04" cy="149.10" r="2.65"/><circle cx="605.36" cy="148.70" r="2.65"/><circle cx="606.68" cy="148.34" r="2.65"/><circle cx="608.00" cy="147.89" r="2.65"/><circle cx="609.32" cy="147.72" r="2.65"/><circle cx="610.64" cy="147.39" r="2.65"/><circle cx="611.96" cy="147.01" r="2.65"/><circle cx="613.28" cy="147.31" r="2.65"/><circle cx="614.60" cy="146.79" r="2.65"/><circle cx="615.92" cy="147.01" r="2.65"/><circle cx="617.24" cy="145.95" r="2.65"/><circle cx="618.56" cy="146.50" r="2.65"/><circle cx="619.88" cy="145.99" r="2.65"/><circle cx="621.20" cy="145.92" r="2.65"/><circle cx="622.52" cy="145.60" r="2.65"/><circle cx="623.84" cy="145.30" r="2.65"/><circle cx="625.16" cy="144.68" r="2.65"/><circle cx="626.48" cy="143.81" r="2.65"/><circle cx="627.80" cy="144.25" r="2.65"/><circle cx="629.12" cy="143.11" r="2.65"/><circle cx="630.44" cy="142.68" r="2.65"/><circle cx="631.76" cy="142.48" r="2.65"/><circle cx="633.08" cy="141.78" r="2.65"/><circle cx="634.40" cy="141.11" r="2.65"/><circle cx="635.50" cy="140.97" r="2.65"/><circle cx="636.60" cy="139.98" r="2.65"/><circle cx="637.70" cy="139.04" r="2.65"/><circle cx="638.80" cy="138.29" r="2.65"/><circle cx="639.90" cy="138.23" r="2.65"/><circle cx="641.00" cy="137.18" r="2.65"/><circle cx="642.25" cy="136.58" r="2.65"/><circle cx="643.50" cy="135.25" r="2.65"/><circle cx="644.75" cy="134.20" r="2.65"/><circle cx="646.00" cy="133.63" r="2.65"/><circle cx="647.50" cy="133.62" r="2.65"/><circle cx="649.00" cy="132.67" r="2.65"/><circle cx="650.50" cy="132.99" r="2.65"/><circle cx="652.00" cy="132.82" r="2.65"/><circle cx="653.50" cy="132.48" r="2.65"/><circle cx="655.00" cy="132.27" r="2.65"/><circle cx="656.50" cy="131.23" r="2.65"/><circle cx="658.00" cy="131.63" r="2.65"/><circle cx="659.24" cy="131.40" r="2.65"/><circle cx="660.48" cy="130.13" r="2.65"/><circle cx="661.72" cy="129.89" r="2.65"/><circle cx="662.96" cy="129.43" r="2.65"/><circle cx="664.20" cy="129.23" r="2.65"/><circle cx="665.47" cy="128.12" r="2.65"/><circle cx="666.73" cy="127.17" r="2.65"/><circle cx="668.00" cy="126.48" r="2.65"/><circle cx="669.50" cy="124.90" r="2.65"/><circle cx="671.00" cy="124.15" r="2.65"/><circle cx="672.23" cy="124.53" r="2.65"/><circle cx="673.47" cy="124.82" r="2.65"/><circle cx="674.70" cy="125.07" r="2.65"/><circle cx="675.97" cy="125.81" r="2.65"/><circle cx="677.23" cy="125.52" r="2.65"/><circle cx="678.50" cy="124.59" r="2.65"/><circle cx="678.50" cy="125.00" r="2.65"/><circle cx="679.75" cy="123.50" r="2.65"/><circle cx="681.00" cy="122.00" r="2.65"/><circle cx="681.58" cy="120.38" r="2.65"/><circle cx="682.15" cy="118.75" r="2.65"/><circle cx="682.72" cy="117.12" r="2.65"/><circle cx="683.30" cy="115.50" r="2.65"/><circle cx="684.30" cy="113.90" r="2.65"/><circle cx="685.30" cy="112.30" r="2.65"/><circle cx="686.30" cy="110.70" r="2.65"/><circle cx="687.25" cy="109.38" r="2.65"/><circle cx="688.20" cy="108.05" r="2.65"/><circle cx="689.15" cy="106.73" r="2.65"/><circle cx="690.10" cy="105.40" r="2.65"/><circle cx="691.23" cy="104.25" r="2.65"/><circle cx="692.35" cy="103.10" r="2.65"/><circle cx="693.48" cy="101.95" r="2.65"/><circle cx="694.60" cy="100.80" r="2.65"/><circle cx="696.37" cy="100.07" r="2.65"/><circle cx="698.13" cy="99.33" r="2.65"/><circle cx="699.90" cy="98.60" r="2.65"/><circle cx="701.40" cy="99.90" r="2.65"/><circle cx="702.90" cy="101.20" r="2.65"/><circle cx="704.05" cy="100.35" r="2.65"/><circle cx="705.20" cy="99.50" r="2.65"/></g>
<g class="cim"><circle cx="488.40" cy="151.30" r="2.65"/><circle cx="515.20" cy="151.20" r="2.65"/><circle cx="528.00" cy="151.20" r="2.65"/><circle cx="532.40" cy="151.20" r="2.65"/><circle cx="708.60" cy="95.70" r="2.65"/><circle cx="712.50" cy="93.10" r="2.65"/><circle cx="715.20" cy="89.80" r="2.65"/><circle cx="718.50" cy="87.20" r="2.65"/><circle cx="721.80" cy="85.20" r="2.65"/><circle cx="725.10" cy="83.20" r="2.65"/><circle cx="729.70" cy="79.90" r="2.65"/><circle cx="735.60" cy="78.80" r="2.65"/><circle cx="743.60" cy="80.20" r="2.65"/><circle cx="754.40" cy="77.50" r="2.65"/><circle cx="772.80" cy="83.30" r="2.65"/></g>
<polyline class="ln" points="467.00,199.60 488.40,199.60 515.60,199.60 527.60,199.20 532.20,199.20 536.70,199.10 539.50,199.10 542.00,199.00 544.50,199.00 546.50,199.00 552.50,199.70 575.00,198.90 590.10,198.60 597.60,197.90 605.20,197.00 612.70,195.90 620.30,195.60 627.80,195.90 632.40,193.90 638.40,192.10 644.40,190.60 647.50,187.60 650.50,186.10 656.80,185.80 663.60,183.00 667.00,178.50 670.40,174.00 675.50,170.00 680.60,165.40 685.70,163.40 689.10,159.00 694.20,159.00 699.30,158.60 702.00,157.30 705.70,155.50 708.50,154.00 711.30,152.10 714.20,144.60 717.90,142.70 720.80,137.00 724.60,134.20 729.30,129.40 735.90,127.90 743.50,120.00 754.40,111.90 772.80,111.30"/>
<g class="trm"><path d="M549.90 201.87L555.10 201.87L552.50 197.37Z"/><path d="M551.22 202.10L556.42 202.10L553.82 197.60Z"/><path d="M552.55 201.82L557.75 201.82L555.15 197.32Z"/><path d="M553.87 201.56L559.07 201.56L556.47 197.05Z"/><path d="M555.19 201.80L560.39 201.80L557.79 197.30Z"/><path d="M556.52 201.91L561.72 201.91L559.12 197.41Z"/><path d="M557.84 201.24L563.04 201.24L560.44 196.74Z"/><path d="M559.16 201.55L564.36 201.55L561.76 197.04Z"/><path d="M560.49 201.50L565.69 201.50L563.09 197.00Z"/><path d="M561.81 201.91L567.01 201.91L564.41 197.40Z"/><path d="M563.14 201.92L568.34 201.92L565.74 197.41Z"/><path d="M564.46 201.31L569.66 201.31L567.06 196.80Z"/><path d="M565.78 201.78L570.98 201.78L568.38 197.28Z"/><path d="M567.11 201.63L572.31 201.63L569.71 197.13Z"/><path d="M568.43 201.05L573.63 201.05L571.03 196.55Z"/><path d="M569.75 201.21L574.95 201.21L572.35 196.71Z"/><path d="M571.08 200.82L576.28 200.82L573.68 196.32Z"/><path d="M572.40 201.46L577.60 201.46L575.00 196.96Z"/><path d="M573.66 201.29L578.86 201.29L576.26 196.79Z"/><path d="M574.92 201.49L580.12 201.49L577.52 196.99Z"/><path d="M576.17 201.37L581.38 201.37L578.77 196.87Z"/><path d="M577.43 201.22L582.63 201.22L580.03 196.72Z"/><path d="M578.69 201.26L583.89 201.26L581.29 196.76Z"/><path d="M579.95 201.07L585.15 201.07L582.55 196.56Z"/><path d="M581.21 200.58L586.41 200.58L583.81 196.08Z"/><path d="M582.47 201.04L587.67 201.04L585.07 196.54Z"/><path d="M583.73 200.43L588.93 200.43L586.33 195.93Z"/><path d="M584.98 200.55L590.18 200.55L587.58 196.04Z"/><path d="M586.24 201.15L591.44 201.15L588.84 196.65Z"/><path d="M587.50 200.40L592.70 200.40L590.10 195.89Z"/><path d="M588.75 200.33L593.95 200.33L591.35 195.82Z"/><path d="M590.00 200.22L595.20 200.22L592.60 195.71Z"/><path d="M591.25 200.88L596.45 200.88L593.85 196.38Z"/><path d="M592.50 200.06L597.70 200.06L595.10 195.56Z"/><path d="M593.75 199.79L598.95 199.79L596.35 195.29Z"/><path d="M595.00 200.49L600.20 200.49L597.60 195.99Z"/><path d="M596.27 199.62L601.47 199.62L598.87 195.12Z"/><path d="M597.53 200.20L602.73 200.20L600.13 195.69Z"/><path d="M598.80 199.88L604.00 199.88L601.40 195.37Z"/><path d="M600.07 199.89L605.27 199.89L602.67 195.38Z"/><path d="M601.33 199.85L606.53 199.85L603.93 195.35Z"/><path d="M602.60 199.33L607.80 199.33L605.20 194.83Z"/><path d="M603.85 199.37L609.05 199.37L606.45 194.86Z"/><path d="M605.10 198.42L610.30 198.42L607.70 193.92Z"/><path d="M606.35 198.97L611.55 198.97L608.95 194.47Z"/><path d="M607.60 198.53L612.80 198.53L610.20 194.03Z"/><path d="M608.85 198.55L614.05 198.55L611.45 194.05Z"/><path d="M610.10 197.76L615.30 197.76L612.70 193.26Z"/><path d="M611.37 198.35L616.57 198.35L613.97 193.85Z"/><path d="M612.63 198.49L617.83 198.49L615.23 193.98Z"/><path d="M613.90 197.56L619.10 197.56L616.50 193.06Z"/><path d="M615.17 197.78L620.37 197.78L617.77 193.27Z"/><path d="M616.43 197.97L621.63 197.97L619.03 193.46Z"/><path d="M617.70 198.18L622.90 198.18L620.30 193.68Z"/><path d="M618.95 197.64L624.15 197.64L621.55 193.14Z"/><path d="M620.20 197.63L625.40 197.63L622.80 193.13Z"/><path d="M621.45 197.75L626.65 197.75L624.05 193.25Z"/><path d="M622.70 198.17L627.90 198.17L625.30 193.66Z"/><path d="M623.95 198.36L629.15 198.36L626.55 193.85Z"/><path d="M625.20 198.05L630.40 198.05L627.80 193.54Z"/><path d="M626.35 197.52L631.55 197.52L628.95 193.02Z"/><path d="M627.50 197.05L632.70 197.05L630.10 192.55Z"/><path d="M628.65 196.50L633.85 196.50L631.25 192.00Z"/><path d="M629.80 196.07L635.00 196.07L632.40 191.57Z"/><path d="M631.00 195.37L636.20 195.37L633.60 190.87Z"/><path d="M632.20 195.43L637.40 195.43L634.80 190.93Z"/><path d="M633.40 195.54L638.60 195.54L636.00 191.04Z"/><path d="M634.60 194.62L639.80 194.62L637.20 190.12Z"/><path d="M635.80 194.60L641.00 194.60L638.40 190.10Z"/><path d="M637.00 193.71L642.20 193.71L639.60 189.21Z"/><path d="M638.20 193.94L643.40 193.94L640.80 189.44Z"/><path d="M639.40 193.71L644.60 193.71L642.00 189.20Z"/><path d="M640.60 193.33L645.80 193.33L643.20 188.82Z"/><path d="M641.80 192.87L647.00 192.87L644.40 188.37Z"/><path d="M642.83 191.84L648.03 191.84L645.43 187.33Z"/><path d="M643.87 190.99L649.07 190.99L646.47 186.49Z"/><path d="M644.90 190.25L650.10 190.25L647.50 185.75Z"/><path d="M645.90 189.00L651.10 189.00L648.50 184.50Z"/><path d="M646.90 188.45L652.10 188.45L649.50 183.94Z"/><path d="M647.90 188.60L653.10 188.60L650.50 184.10Z"/><path d="M649.16 188.71L654.36 188.71L651.76 184.21Z"/><path d="M650.42 188.25L655.62 188.25L653.02 183.75Z"/><path d="M651.68 188.11L656.88 188.11L654.28 183.61Z"/><path d="M652.94 188.33L658.14 188.33L655.54 183.83Z"/><path d="M654.20 187.74L659.40 187.74L656.80 183.23Z"/><path d="M655.33 187.35L660.53 187.35L657.93 182.85Z"/><path d="M656.47 186.82L661.67 186.82L659.07 182.31Z"/><path d="M657.60 186.74L662.80 186.74L660.20 182.23Z"/><path d="M658.73 186.00L663.93 186.00L661.33 181.50Z"/><path d="M659.87 185.45L665.07 185.45L662.47 180.95Z"/><path d="M661.00 185.44L666.20 185.44L663.60 180.94Z"/><path d="M661.85 184.58L667.05 184.58L664.45 180.08Z"/><path d="M662.70 182.80L667.90 182.80L665.30 178.29Z"/><path d="M663.55 182.08L668.75 182.08L666.15 177.58Z"/><path d="M664.40 180.66L669.60 180.66L667.00 176.16Z"/><path d="M665.25 179.98L670.45 179.98L667.85 175.48Z"/><path d="M666.10 178.59L671.30 178.59L668.70 174.08Z"/><path d="M666.95 177.14L672.15 177.14L669.55 172.64Z"/><path d="M667.80 175.97L673.00 175.97L670.40 171.47Z"/><path d="M668.82 174.97L674.02 174.97L671.42 170.47Z"/><path d="M669.84 174.63L675.04 174.63L672.44 170.13Z"/><path d="M670.86 173.73L676.06 173.73L673.46 169.23Z"/><path d="M671.88 172.72L677.08 172.72L674.48 168.22Z"/><path d="M672.90 172.11L678.10 172.11L675.50 167.61Z"/><path d="M673.92 171.15L679.12 171.15L676.52 166.65Z"/><path d="M674.94 170.69L680.14 170.69L677.54 166.18Z"/><path d="M675.96 169.14L681.16 169.14L678.56 164.63Z"/><path d="M676.98 169.06L682.18 169.06L679.58 164.56Z"/><path d="M678.00 167.63L683.20 167.63L680.60 163.13Z"/><path d="M679.27 167.25L684.48 167.25L681.88 162.75Z"/><path d="M680.55 166.62L685.75 166.62L683.15 162.12Z"/><path d="M681.83 166.49L687.03 166.49L684.43 161.98Z"/><path d="M683.10 165.97L688.30 165.97L685.70 161.47Z"/><path d="M683.95 164.61L689.15 164.61L686.55 160.11Z"/><path d="M684.80 163.43L690.00 163.43L687.40 158.93Z"/><path d="M685.65 162.57L690.85 162.57L688.25 158.07Z"/><path d="M686.50 161.61L691.70 161.61L689.10 157.11Z"/><path d="M687.77 161.15L692.98 161.15L690.38 156.65Z"/><path d="M689.05 161.49L694.25 161.49L691.65 156.98Z"/><path d="M690.33 161.71L695.53 161.71L692.93 157.21Z"/><path d="M691.60 161.22L696.80 161.22L694.20 156.72Z"/><path d="M692.88 160.88L698.08 160.88L695.48 156.38Z"/><path d="M694.15 160.79L699.35 160.79L696.75 156.28Z"/><path d="M695.42 161.17L700.62 161.17L698.02 156.67Z"/><path d="M696.70 161.03L701.90 161.03L699.30 156.52Z"/><path d="M698.05 160.66L703.25 160.66L700.65 156.16Z"/><path d="M699.40 159.91L704.60 159.91L702.00 155.40Z"/><path d="M700.63 158.69L705.83 158.69L703.23 154.19Z"/><path d="M701.87 158.04L707.07 158.04L704.47 153.54Z"/><path d="M703.10 157.51L708.30 157.51L705.70 153.01Z"/></g>
<g class="trm"><path d="M485.80 201.85L491.00 201.85L488.40 197.35Z"/><path d="M513.00 201.85L518.20 201.85L515.60 197.35Z"/><path d="M525.00 201.45L530.20 201.45L527.60 196.95Z"/><path d="M529.60 201.45L534.80 201.45L532.20 196.95Z"/><path d="M534.10 201.35L539.30 201.35L536.70 196.85Z"/><path d="M536.90 201.35L542.10 201.35L539.50 196.85Z"/><path d="M539.40 201.25L544.60 201.25L542.00 196.75Z"/><path d="M541.90 201.25L547.10 201.25L544.50 196.75Z"/><path d="M543.90 201.25L549.10 201.25L546.50 196.75Z"/><path d="M705.90 156.25L711.10 156.25L708.50 151.75Z"/><path d="M708.70 154.35L713.90 154.35L711.30 149.85Z"/><path d="M711.60 146.85L716.80 146.85L714.20 142.35Z"/><path d="M715.30 144.95L720.50 144.95L717.90 140.45Z"/><path d="M718.20 139.25L723.40 139.25L720.80 134.75Z"/><path d="M722.00 136.45L727.20 136.45L724.60 131.95Z"/><path d="M726.70 131.65L731.90 131.65L729.30 127.15Z"/><path d="M733.30 130.15L738.50 130.15L735.90 125.65Z"/><path d="M740.90 122.25L746.10 122.25L743.50 117.75Z"/><path d="M751.80 114.15L757.00 114.15L754.40 109.65Z"/><path d="M770.20 113.55L775.40 113.55L772.80 109.05Z"/></g>
<text class="pl" x="1.8" y="15.6">A</text>
<text class="pl" x="404.2" y="15.6">B</text>
<text class="al" transform="translate(12.2,115) rotate(-90)">Ratio</text>
<text class="al" transform="translate(416.6,115) rotate(-90)">Ratio</text>
<text class="al" x="225.6" y="263.0">Threshold value</text>
<text class="al" x="628.6" y="263.0">Threshold value</text>
</svg>
</body></html>
